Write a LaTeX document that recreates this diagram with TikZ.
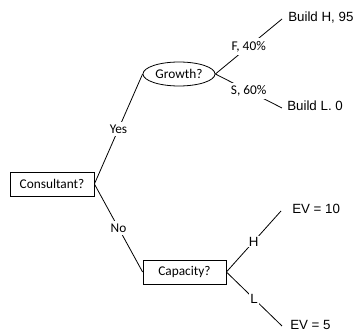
\documentclass[tikz,border=0pt]{standalone}
\usepackage{fontspec}
\setmainfont{Liberation Sans}
\newfontfamily\calib{Carlito}
\usetikzlibrary{shapes.geometric}

\tikzset{
  decbox/.style={draw, line width=0.6pt, fill=white, minimum height=18pt, inner sep=0pt, font=\calib},
  chance/.style={draw, ellipse, line width=0.6pt, minimum width=54pt, minimum height=18pt, inner sep=0pt, font=\calib},
  branch/.style={line width=0.6pt},
  brlabel/.style={fill=white, inner sep=2pt, font=\calib},
  leaf/.style={anchor=west, inner sep=0.75pt}
}

\begin{document}
\begin{tikzpicture}[x=0.75pt,y=0.75pt,yscale=-1,xscale=1]
\useasboundingbox (0,0) rectangle (354,331);

%Shape: Rectangle [id:cons]
\node [decbox, minimum width=63pt] (cons) at (52,184) {Consultant?};
%Shape: Ellipse [id:growth]
\node [chance] (growth) at (179,74) {Growth?};
%Shape: Rectangle [id:cap]
\node [decbox, minimum width=62.25pt] (cap) at (184.5,272) {Capacity?};

% end points
\coordinate (bh) at (282,19);
\coordinate (bl) at (282,108);
\coordinate (eh) at (281,211);
\coordinate (el) at (282,326);

%Straight Lines [id:yes]
\draw [branch] (cons.east) -- (growth.west) node [brlabel, pos=0.5] {Yes};
%Straight Lines [id:no]
\draw [branch] (cons.east) -- (cap.west) node [brlabel, pos=0.5] {No};
%Straight Lines [id:f40]
\draw [branch] (growth.east) -- (bh) node [brlabel, pos=0.5] {F, 40\%};
%Straight Lines [id:s60]
\draw [branch] (growth.east) -- (bl) node [brlabel, pos=0.5] {S, 60\%};
%Straight Lines [id:h]
\draw [branch] (cap.east) -- (eh) node [brlabel, font=\normalfont, inner sep=1pt, pos=0.5] {H};
%Straight Lines [id:l]
\draw [branch] (cap.east) -- (el) node [brlabel, font=\normalfont, inner sep=1pt, pos=0.5] {L};

% Text Node
\node [leaf] (buildh) at (287,18) {Build H, 95};
% Text Node
\node [leaf] (buildl) at (286,106) {Build L. 0};
% Text Node
\node [leaf] (ev10) at (291,209) {EV = 10};
% Text Node
\node [leaf] (ev5) at (289,325) {EV = 5};
\end{tikzpicture}
\end{document}
